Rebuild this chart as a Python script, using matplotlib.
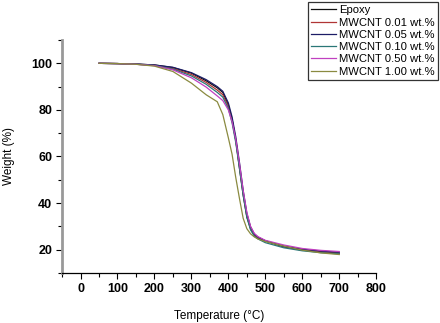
import matplotlib
matplotlib.use('Agg')
import matplotlib.pyplot as plt
from matplotlib.ticker import MultipleLocator

plt.rcParams['font.family'] = ['Liberation Sans', 'DejaVu Sans']

# 温度点 (°C)
temperature = [50, 100, 150, 200, 250, 300, 340, 370, 385, 400, 410, 420, 430,
               440, 450, 460, 470, 480, 500, 550, 600, 650, 700]

# 各样品失重曲线 (%)
epoxy = [100, 99.9, 99.7, 99.3, 98.2, 95.8, 92.5, 89.5, 87.5, 82, 76, 67, 55,
         43.5, 34, 29, 26.3, 25, 23.7, 21.2, 19.8, 19.0, 18.5]
mwcnt_001 = [100, 99.9, 99.6, 99.2, 97.8, 95.2, 91.8, 88.5, 86.5, 81.5, 75.5, 67, 56,
             44.5, 35, 29.5, 26.5, 25.2, 23.8, 21.5, 20.0, 19.0, 18.3]
mwcnt_005 = [100, 99.9, 99.7, 99.3, 98.3, 96.0, 93.0, 90.0, 88.0, 83.0, 77.0, 68.5, 57.5,
             45.5, 35.5, 29.8, 26.8, 25.4, 23.8, 21.4, 20.2, 19.4, 18.9]
mwcnt_010 = [100, 99.9, 99.6, 99.1, 97.5, 94.6, 91.0, 87.5, 85.5, 80.5, 74.5, 66, 55,
             43.5, 34, 28.5, 25.8, 24.6, 23.0, 20.8, 19.5, 18.7, 18.2]
mwcnt_050 = [100, 99.9, 99.6, 99.0, 97.2, 93.8, 89.8, 86.0, 84.0, 80.0, 75.0, 67.5, 57,
             45.5, 36, 30, 27.0, 25.6, 24.0, 22.0, 20.5, 19.7, 19.2]
mwcnt_100 = [100, 99.9, 99.6, 98.8, 96.5, 91.5, 86.5, 83.5, 78.0, 68.0, 61.0, 51, 42,
             33.5, 29, 26.8, 25.5, 24.6, 23.5, 21.5, 19.8, 18.6, 17.9]

labels = ['Epoxy', 'MWCNT 0.01 wt.%', 'MWCNT 0.05 wt.%', 'MWCNT 0.10 wt.%',
          'MWCNT 0.50 wt.%', 'MWCNT 1.00 wt.%']
colors = ['#111111', '#b03535', '#1c1c66', '#2a7777', '#c040c0', '#8a8a40']
series = [epoxy, mwcnt_001, mwcnt_005, mwcnt_010, mwcnt_050, mwcnt_100]

fig = plt.figure(figsize=(4.4, 3.23), dpi=100)
ax = fig.add_axes([0.141, 0.155, 0.714, 0.721])

for y, c, lab in zip(series, colors, labels):
    ax.plot(temperature, y, color=c, lw=0.9, label=lab)

ax.set_xlim(-50, 800)
ax.set_ylim(10, 110)
ax.xaxis.set_major_locator(MultipleLocator(100))
ax.xaxis.set_minor_locator(MultipleLocator(50))
ax.yaxis.set_major_locator(MultipleLocator(20))
ax.yaxis.set_minor_locator(MultipleLocator(10))

# 只保留左、下坐标轴
ax.spines['top'].set_visible(False)
ax.spines['right'].set_visible(False)
ax.spines['left'].set_color('#999999')
ax.spines['left'].set_linewidth(2)
ax.spines['bottom'].set_linewidth(0.9)

ax.tick_params(which='major', direction='out', length=4, width=0.8, pad=3)
ax.tick_params(which='minor', direction='out', length=3, width=0.8)
for t in ax.get_xticklabels() + ax.get_yticklabels():
    t.set_fontsize(9)
    t.set_fontweight('bold')

ax.set_xlabel('Temperature (°C)', fontsize=8.5, labelpad=11)
ax.set_ylabel('Weight (%)', fontsize=8.5, labelpad=12)

leg = fig.legend(loc='upper right', bbox_to_anchor=(0.996, 0.994), fontsize=8.1,
                 frameon=True, fancybox=False, edgecolor='black',
                 handlelength=2.2, handletextpad=0.3, labelspacing=0.2,
                 borderpad=0.3, borderaxespad=0)
leg.get_frame().set_linewidth(0.9)

plt.savefig('out.png', dpi=100)
plt.close(fig)
